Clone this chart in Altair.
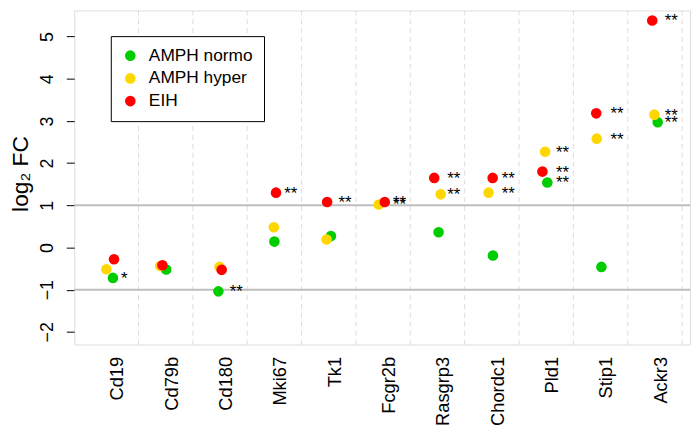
import json
import altair as alt
import pandas as pd

genes = ["Cd19", "Cd79b", "Cd180", "Mki67", "Tk1", "Fcgr2b",
         "Rasgrp3", "Chordc1", "Pld1", "Stip1", "Ackr3"]
series = ["AMPH normo", "AMPH hyper", "EIH"]
colors = ["#00CD00", "#FFD700", "#FF0000"]

fc_normo = [-0.72, -0.52, -1.04, 0.14, 0.27, None, 0.36, -0.19, 1.54, -0.46, 2.97]
fc_hyper = [-0.515, -0.44, -0.46, 0.48, 0.19, 1.02, 1.26, 1.30, 2.27, 2.58, 3.15]
fc_eih = [-0.28, -0.42, -0.53, 1.30, 1.08, 1.08, 1.65, 1.65, 1.80, 3.18, 5.38]

# horizontal jitter of each point (in gene-index units)
jit_normo = [-0.07, -0.09, -0.13, -0.10, -0.06, 0.0, -0.08, -0.08, -0.08, -0.085, -0.05]
jit_hyper = [-0.19, -0.20, -0.11, -0.11, -0.14, -0.18, -0.04, -0.16, -0.12, -0.17, -0.11]
jit_eih = [-0.05, -0.16, -0.07, -0.07, -0.13, -0.07, -0.16, -0.085, -0.17, -0.18, -0.15]

sig_normo = ["*", "", "**", "", "", "", "", "", "**", "", "**"]
sig_hyper = ["", "", "", "", "", "**", "**", "**", "**", "**", "**"]
sig_eih = ["", "", "", "**", "**", "**", "**", "**", "**", "**", "**"]

ref_lines = [-1, 1]

fcs = [fc_normo, fc_hyper, fc_eih]
jits = [jit_normo, jit_hyper, jit_eih]
sigs = [sig_normo, sig_hyper, sig_eih]

pts, stars = [], []
for gi, g in enumerate(genes):
    pos = gi + 1
    for si, s in enumerate(series):
        v = fcs[si][gi]
        if v is None:
            continue
        pts.append({"gene": g, "series": s, "x": pos + jits[si][gi], "fc": v})
        if sigs[si][gi]:
            stars.append({"x": pos + 0.08, "fc": v, "lab": sigs[si][gi]})

pts_df = pd.DataFrame(pts)
stars_df = pd.DataFrame(stars)
grid_df = pd.DataFrame({"x": [i + 1 + 0.4 for i in range(len(genes))]})
ref_df = pd.DataFrame({"y": ref_lines})

FONT = "Liberation Sans"
xscale = alt.Scale(domain=[0.218, 11.545], nice=False, zero=False)
yscale = alt.Scale(domain=[-2.30, 5.62], nice=False, zero=False)

label_expr = json.dumps(genes) + "[round(datum.value) - 1]"

xaxis = alt.Axis(values=list(range(1, len(genes) + 1)), labelExpr=label_expr,
                 labelAngle=270, labelFontSize=18.5, labelPadding=12,
                 labelColor="black", ticks=False, domain=False, grid=False,
                 labelFont=FONT)
yaxis = alt.Axis(values=list(range(-2, 6)), labelAngle=270, labelAlign="center",
                 labelBaseline="alphabetic", labelPadding=14, labelFontSize=18,
                 labelColor="black", tickSize=8, tickColor="black", domain=False,
                 grid=False, title="log₂ FC", titleFontSize=23,
                 titleFontWeight="normal", titleColor="black", titleAngle=270,
                 titleX=-47.5, titleY=165, titleAlign="center",
                 titleBaseline="alphabetic", labelFont=FONT, titleFont=FONT)

grid = alt.Chart(grid_df).mark_rule(color="#DDDDDD", strokeWidth=1,
                                    strokeDash=[5, 4]).encode(
    x=alt.X("x:Q", scale=xscale, axis=xaxis, title=None)
)

refs = alt.Chart(ref_df).mark_rule(color="#BEBEBE", strokeWidth=2).encode(
    y=alt.Y("y:Q", scale=yscale, axis=yaxis)
)

points = alt.Chart(pts_df).mark_circle(size=115, opacity=1).encode(
    x=alt.X("x:Q", scale=xscale, axis=xaxis, title=None),
    y=alt.Y("fc:Q", scale=yscale, axis=yaxis),
    color=alt.Color("series:N",
                    scale=alt.Scale(domain=series, range=colors),
                    legend=alt.Legend(title=None, orient="none", legendX=37,
                                      legendY=26, strokeColor="black",
                                      fillColor="white", padding=11,
                                      labelFontSize=17.5, labelFont=FONT,
                                      labelColor="black", symbolType="circle",
                                      symbolSize=115, symbolStrokeWidth=0,
                                      symbolOpacity=1, labelOffset=10,
                                      rowPadding=4, cornerRadius=0)),
)

texts = alt.Chart(stars_df).mark_text(align="left", baseline="alphabetic",
                                      dy=6, fontSize=17, font=FONT,
                                      color="black").encode(
    x=alt.X("x:Q", scale=xscale, axis=xaxis, title=None),
    y=alt.Y("fc:Q", scale=yscale, axis=yaxis),
    text="lab:N",
)

chart = alt.layer(grid, refs, points, texts).properties(
    width=623, height=338,
    autosize=alt.AutoSizeParams(type="none"),
    padding={"left": 67, "top": 0, "right": 2, "bottom": 83},
).configure_view(stroke="black", strokeWidth=1).configure(font=FONT)

chart.save("out.html", embed_options={"renderer": "svg", "actions": False})
